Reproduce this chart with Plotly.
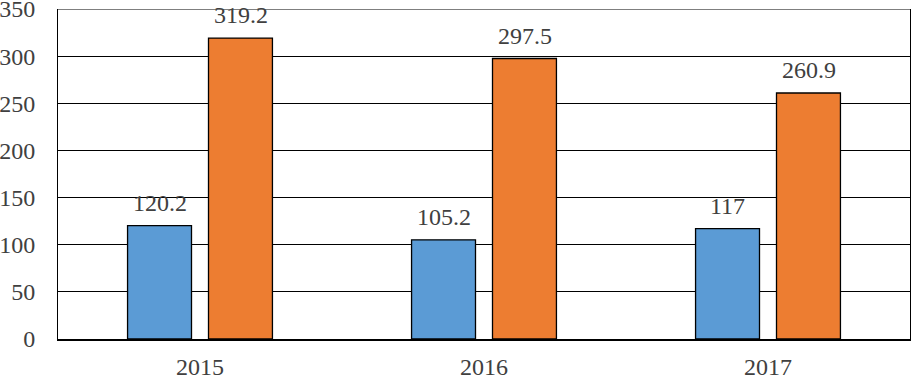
import plotly.graph_objects as go

years = ["2015", "2016", "2017"]
series_a = [120.2, 105.2, 117]
series_b = [319.2, 297.5, 260.9]
y_ticks = [0, 50, 100, 150, 200, 250, 300, 350]

BLUE = "#5B9BD5"
ORANGE = "#ED7D31"
TEXT = "#404040"
FONT = "Times New Roman, Liberation Serif, serif"

fig = go.Figure()
fig.add_trace(go.Bar(x=years, y=series_a, marker=dict(color=BLUE, line=dict(color="black", width=1.3))))
fig.add_trace(go.Bar(x=years, y=series_b, marker=dict(color=ORANGE, line=dict(color="black", width=1.3))))

def fmt(v):
    return ("%g" % v)

annotations = []
for i, (a, b) in enumerate(zip(series_a, series_b)):
    for val, shift in ((a, -40.5), (b, 40.5)):
        annotations.append(dict(x=i, y=val, xref="x", yref="y", text=fmt(val), showarrow=False,
                                xshift=shift, yshift=23, yanchor="middle",
                                font=dict(family=FONT, size=24, color=TEXT)))

fig.update_layout(
    width=912, height=377,
    margin=dict(l=58, r=2, t=9, b=38),
    paper_bgcolor="white", plot_bgcolor="white",
    barmode="group", bargap=0.43, bargroupgap=0.21,
    showlegend=False,
    annotations=annotations,
    font=dict(family=FONT, size=24, color=TEXT),
    shapes=[dict(type="line", xref="paper", yref="y", x0=0, x1=1, y0=y_ticks[-1], y1=y_ticks[-1],
                 line=dict(color="black", width=1))],
)
fig.update_yaxes(range=[0, 350], tickvals=y_ticks, showgrid=True, gridcolor="black", gridwidth=1,
                 zeroline=False, showline=True, linecolor="black", linewidth=1, mirror=True,
                 ticks="outside", ticklen=17, tickcolor="rgba(0,0,0,0)", automargin=False,
                 ticklabeloverflow="allow",
                 tickfont=dict(family=FONT, size=24, color=TEXT))
fig.update_xaxes(type="category", showline=True, linecolor="black", linewidth=2,
                 ticks="outside", ticklen=5, tickcolor="rgba(0,0,0,0)", automargin=False,
                 ticklabeloverflow="allow",
                 tickfont=dict(family=FONT, size=24, color=TEXT))

fig.write_html("out.html", config={"displayModeBar": False},
               post_script="document.body.style.margin='0px';")
